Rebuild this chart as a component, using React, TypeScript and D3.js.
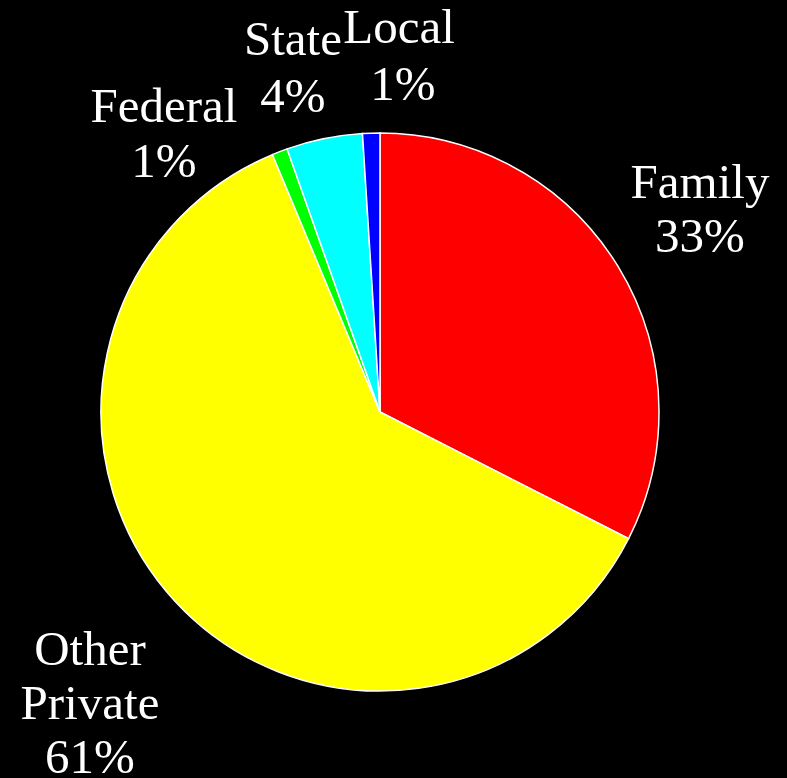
import React from "react";
import * as d3 from "d3";

const categories = ["Family", "Other Private", "Federal", "State", "Local"];
const values = [32.5, 61.2, 0.9, 4.4, 1.0];
const percentLabels = ["33%", "61%", "1%", "4%", "1%"];
const colors = ["#ff0000", "#ffff00", "#00ff00", "#00ffff", "#0000ff"];

// label layout (anchor x, first baseline y), lines split by name words
const labelLines: string[][] = [["Family"], ["Other", "Private"], ["Federal"], ["State"], ["Local"]];
const labelPos: [number, number][] = [
  [700, 198],
  [90, 665],
  [164, 122],
  [293, 55],
  [399, 43],
];

const W = 787;
const H = 778;
const CX = 380;
const CY = 412;
const R = 279;
const LINE = 54;

export default function App() {
  const pie = d3.pie<number>().sort(null).value((d) => d)(values);
  const arc = d3.arc<d3.PieArcDatum<number>>().innerRadius(0).outerRadius(R);
  return (
    <svg
      width={W}
      height={H}
      style={{ position: "absolute", left: 0, top: 0, background: "#000" }}
    >
      <rect width={W} height={H} fill="#000" />
      <g transform={`translate(${CX},${CY})`}>
        {pie.map((p, i) => (
          <path key={i} d={arc(p) || ""} fill={colors[i]} stroke="#fff" strokeWidth={1.5} />
        ))}
      </g>
      {categories.map((c, i) => {
        const [x, y] = labelPos[i];
        const lines = [...labelLines[i], percentLabels[i]];
        return (
          <text
            key={c}
            x={x}
            textAnchor="middle"
            fill="#fff"
            fontFamily="'Liberation Serif', 'Times New Roman', serif"
            fontSize={49}
          >
            {lines.map((l, j) => (
              <tspan key={j} x={x + (j === lines.length - 1 && i === 4 ? 4 : 0)} y={y + j * (i === 4 || i === 3 ? 57 : i === 2 ? 55 : LINE)}>
                {l}
              </tspan>
            ))}
          </text>
        );
      })}
    </svg>
  );
}
